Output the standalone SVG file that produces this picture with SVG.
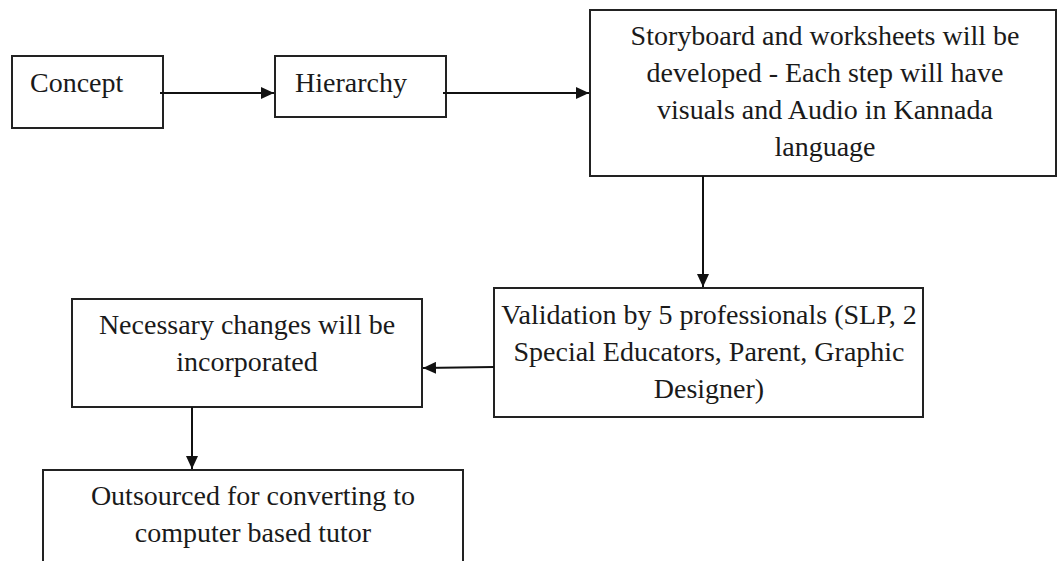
<svg xmlns="http://www.w3.org/2000/svg" width="1058" height="561" viewBox="0 0 1058 561">
  <defs>
    <style>
      .box { fill: #ffffff; stroke: #222222; stroke-width: 2; }
      .lbl { font-family: "Liberation Serif", "Times New Roman", serif; font-size: 28px; fill: #1a1a1a; }
      .mid { text-anchor: middle; }
      .conn { fill: none; stroke: #111111; stroke-width: 2; }
    </style>
    <marker id="arrow" markerUnits="userSpaceOnUse" markerWidth="14" markerHeight="12" refX="13" refY="6" orient="auto">
      <path d="M0,0 L13,6 L0,12 Z" fill="#111111"/>
    </marker>
  </defs>
  <rect width="1058" height="561" fill="#ffffff"/>

  <g id="concept">
    <rect class="box" x="12" y="56" width="151" height="72"/>
    <text class="lbl" x="30" y="92">Concept</text>
  </g>

  <g id="hierarchy">
    <rect class="box" x="275" y="56" width="171" height="61"/>
    <text class="lbl" x="295" y="92">Hierarchy</text>
  </g>

  <g id="storyboard">
    <rect class="box" x="590" y="10" width="466" height="166"/>
    <text class="lbl mid" x="825" y="45">Storyboard and worksheets will be</text>
    <text class="lbl mid" x="825" y="82">developed - Each step will have</text>
    <text class="lbl mid" x="825" y="119">visuals and Audio in Kannada</text>
    <text class="lbl mid" x="825" y="156">language</text>
  </g>

  <g id="validation">
    <rect class="box" x="494" y="288" width="429" height="129"/>
    <text class="lbl mid" x="709" y="324">Validation by 5 professionals (SLP, 2</text>
    <text class="lbl mid" x="709" y="361">Special Educators, Parent, Graphic</text>
    <text class="lbl mid" x="709" y="398">Designer)</text>
  </g>

  <g id="necessary">
    <rect class="box" x="72" y="299" width="350" height="108"/>
    <text class="lbl mid" x="247" y="334">Necessary changes will be</text>
    <text class="lbl mid" x="247" y="371">incorporated</text>
  </g>

  <g id="outsourced">
    <rect class="box" x="43" y="470" width="420" height="110"/>
    <text class="lbl mid" x="253" y="505">Outsourced for converting to</text>
    <text class="lbl mid" x="253" y="542">computer based tutor</text>
  </g>

  <g id="connectors">
    <line class="conn" x1="160" y1="93" x2="274" y2="93" marker-end="url(#arrow)"/>
    <line class="conn" x1="443" y1="93" x2="589" y2="93" marker-end="url(#arrow)"/>
    <line class="conn" x1="703" y1="176" x2="703" y2="287" marker-end="url(#arrow)"/>
    <line class="conn" x1="494" y1="367" x2="423" y2="368" marker-end="url(#arrow)"/>
    <line class="conn" x1="192" y1="407" x2="192" y2="469" marker-end="url(#arrow)"/>
  </g>
</svg>
